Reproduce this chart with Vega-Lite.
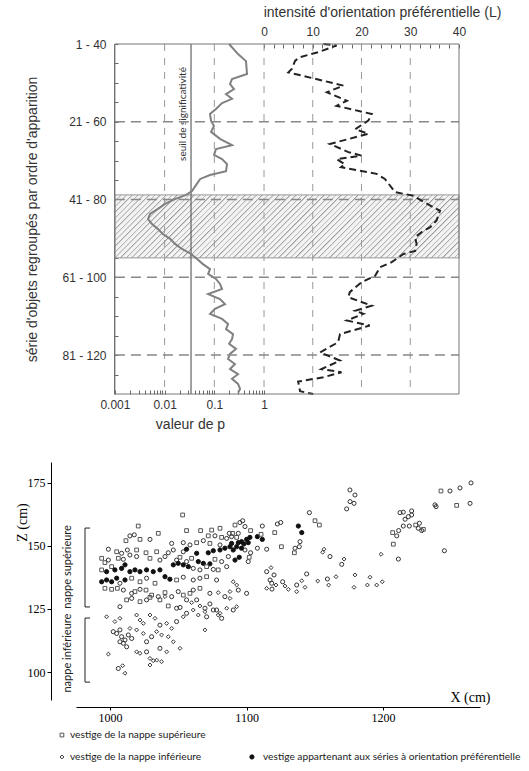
{
"$schema":"https://vega.github.io/schema/vega-lite/v6.json",
"background":"white",
"padding":{"left":15,"top":5,"right":0,"bottom":0},
"config":{"view":{"stroke":null},"axis":{"titleFontWeight":"normal","labelColor":"#333","titleColor":"#333","labelFont":"Liberation Sans","titleFont":"Liberation Sans"}},
"spacing":31,
"datasets":{
"pline":[{"s":1,"p":0.198},{"s":3.6,"p":0.3},{"s":5.4,"p":0.434},{"s":8.7,"p":0.455},{"s":10,"p":0.227},{"s":11.3,"p":0.207},{"s":12.6,"p":0.249},{"s":13.9,"p":0.172},{"s":15.1,"p":0.227},{"s":16.2,"p":0.143},{"s":17.7,"p":0.108},{"s":19,"p":0.082},{"s":20.8,"p":0.086},{"s":22.1,"p":0.0986},{"s":23.6,"p":0.086},{"s":25.4,"p":0.13},{"s":27,"p":0.227},{"s":28,"p":0.108},{"s":29.5,"p":0.0986},{"s":30.6,"p":0.143},{"s":31.9,"p":0.18},{"s":33.7,"p":0.172},{"s":34.7,"p":0.082},{"s":35.7,"p":0.052},{"s":37.3,"p":0.0428},{"s":38.8,"p":0.0356},{"s":39.8,"p":0.027},{"s":40.9,"p":0.0162},{"s":42.1,"p":0.0102},{"s":43.4,"p":0.00736},{"s":44.7,"p":0.0051},{"s":46,"p":0.00463},{"s":47.3,"p":0.00557},{"s":48.6,"p":0.00736},{"s":49.9,"p":0.0093},{"s":51.1,"p":0.0129},{"s":52.4,"p":0.0162},{"s":53.7,"p":0.0224},{"s":55,"p":0.034},{"s":56.3,"p":0.045},{"s":57.6,"p":0.059},{"s":58.9,"p":0.082},{"s":60.1,"p":0.075},{"s":61.4,"p":0.108},{"s":62.7,"p":0.13},{"s":64,"p":0.143},{"s":65.3,"p":0.075},{"s":66.6,"p":0.13},{"s":67.9,"p":0.164},{"s":69.1,"p":0.103},{"s":70.4,"p":0.082},{"s":71.7,"p":0.143},{"s":73,"p":0.189},{"s":74.3,"p":0.172},{"s":75.6,"p":0.238},{"s":76.9,"p":0.227},{"s":78.1,"p":0.198},{"s":79.4,"p":0.273},{"s":80.7,"p":0.207},{"s":82,"p":0.189},{"s":83.3,"p":0.26},{"s":84.6,"p":0.207},{"s":85.9,"p":0.3},{"s":87.1,"p":0.227},{"s":88.4,"p":0.3},{"s":89.7,"p":0.33},{"s":90.7,"p":0.3}],
"lline":[{"s":1,"L":12.2},{"s":1.4,"L":14.9},{"s":3.1,"L":11.1},{"s":4.4,"L":7.4},{"s":5.3,"L":6.4},{"s":7.4,"L":5.7},{"s":8.3,"L":5},{"s":11.7,"L":16.3},{"s":13.4,"L":12.9},{"s":15.6,"L":17},{"s":16.9,"L":14.9},{"s":19,"L":22.1},{"s":20.7,"L":21.4},{"s":22.9,"L":18.7},{"s":24.1,"L":21.4},{"s":26.7,"L":13.5},{"s":28.8,"L":17.3},{"s":29.7,"L":20},{"s":30.6,"L":14.9},{"s":31.9,"L":16.6},{"s":32.7,"L":15.8},{"s":34.4,"L":23.1},{"s":35.7,"L":24.8},{"s":39.1,"L":26.9},{"s":40,"L":30.6},{"s":41.3,"L":32.3},{"s":43.9,"L":36.1},{"s":46.4,"L":35.4},{"s":48.1,"L":34.1},{"s":49.4,"L":32.3},{"s":50.7,"L":31},{"s":52.4,"L":31.3},{"s":54.2,"L":31},{"s":55,"L":28.6},{"s":57.1,"L":26.2},{"s":58.4,"L":23.8},{"s":60.6,"L":22.8},{"s":62.3,"L":20},{"s":64.8,"L":17.6},{"s":66.1,"L":17.3},{"s":68.3,"L":22.1},{"s":69.6,"L":18.7},{"s":70.4,"L":20.4},{"s":72.1,"L":17},{"s":73.4,"L":21.7},{"s":75.6,"L":15.6},{"s":77.7,"L":15.2},{"s":80.3,"L":11.5},{"s":82.4,"L":15.6},{"s":84.6,"L":11.8},{"s":85.4,"L":15.9},{"s":86.7,"L":12.2},{"s":87.8,"L":7},{"s":90.3,"L":7.4},{"s":91,"L":10.1}],
"pts":[
{"x":1053.1,"z":162.3,"k":"s"},{"x":1020.6,"z":157.9,"k":"s"},{"x":1091.5,"z":158.3,"k":"s"},{"x":1095.1,"z":159.3,"k":"c"},{"x":1097.1,"z":160,"k":"c"},{"x":1098.8,"z":157.7,"k":"c"},
{"x":1056,"z":156.1,"k":"s"},{"x":1066.3,"z":156.1,"k":"s"},{"x":1074.4,"z":156.3,"k":"s"},{"x":1080.5,"z":157,"k":"s"},{"x":1087.3,"z":155,"k":"c"},{"x":1089.7,"z":155,"k":"s"},{"x":1093.9,"z":155,"k":"c"},{"x":1102.9,"z":156.1,"k":"s"},
{"x":1014.5,"z":154,"k":"c"},{"x":1017.7,"z":154.4,"k":"c"},{"x":1035.3,"z":155,"k":"s"},{"x":1011.6,"z":152.1,"k":"s"},{"x":1021.9,"z":152.6,"k":"s"},{"x":1029.2,"z":152.6,"k":"c"},{"x":1071.9,"z":154,"k":"s"},{"x":1076.8,"z":154,"k":"c"},{"x":1081.7,"z":153.4,"k":"s"},{"x":1085.4,"z":153,"k":"c"},{"x":1089,"z":153.7,"k":"c"},{"x":1092.7,"z":153.4,"k":"s"},{"x":1100,"z":152.6,"k":"f"},{"x":1102.4,"z":153.4,"k":"f"},
{"x":998.7,"z":148.7,"k":"c"},{"x":1045.1,"z":151,"k":"c"},{"x":1053.6,"z":151.3,"k":"c"},{"x":1058.5,"z":150.4,"k":"c"},{"x":1063.4,"z":151.3,"k":"s"},{"x":1068.3,"z":152.1,"k":"c"},{"x":1073.1,"z":151,"k":"s"},{"x":1080.5,"z":150.4,"k":"c"},{"x":1089,"z":151,"k":"f"},{"x":1093.9,"z":151.3,"k":"f"},{"x":1096.3,"z":151.7,"k":"f"},{"x":1098,"z":150.8,"k":"f"},{"x":1101.2,"z":151.3,"k":"f"},
{"x":1004.8,"z":147.7,"k":"s"},{"x":1008.4,"z":147.1,"k":"c"},{"x":1012.6,"z":148.4,"k":"c"},{"x":1019.4,"z":148.4,"k":"s"},{"x":1026.3,"z":147.3,"k":"s"},{"x":1034.1,"z":147.7,"k":"s"},{"x":1042.6,"z":147.3,"k":"c"},{"x":1046.3,"z":148.4,"k":"c"},{"x":1053.6,"z":147.7,"k":"c"},{"x":1056,"z":148.7,"k":"f"},{"x":1063.4,"z":147.1,"k":"f"},{"x":1071.9,"z":147.3,"k":"f"},{"x":1075.6,"z":148.1,"k":"f"},{"x":1080.5,"z":148.4,"k":"f"},{"x":1084.1,"z":149.1,"k":"f"},{"x":1087.8,"z":149.7,"k":"f"},{"x":1090.2,"z":148.4,"k":"f"},{"x":1092.7,"z":149.7,"k":"f"},{"x":1096.3,"z":149.1,"k":"f"},{"x":1098.8,"z":148.4,"k":"c"},{"x":1102.9,"z":147.3,"k":"c"},
{"x":993.8,"z":145.1,"k":"s"},{"x":996.2,"z":143.4,"k":"s"},{"x":998.7,"z":144.4,"k":"c"},{"x":1006,"z":145.1,"k":"s"},{"x":1009.7,"z":144.7,"k":"c"},{"x":1014.5,"z":146.4,"k":"c"},{"x":1019.4,"z":145.8,"k":"c"},{"x":1029.2,"z":145.1,"k":"s"},{"x":1036.5,"z":144.4,"k":"c"},{"x":1040.2,"z":145.8,"k":"c"},{"x":1048.7,"z":144.4,"k":"c"},{"x":1051.2,"z":145.5,"k":"s"},{"x":1056,"z":143.8,"k":"c"},{"x":1059.7,"z":145.1,"k":"s"},{"x":1064.6,"z":143.8,"k":"f"},{"x":1068.3,"z":143.1,"k":"f"},{"x":1073.1,"z":142.9,"k":"f"},{"x":1076.8,"z":144.7,"k":"s"},{"x":1081.7,"z":143.8,"k":"c"},{"x":1086.6,"z":145.8,"k":"c"},{"x":1091.5,"z":144.4,"k":"f"},{"x":1094.6,"z":145.5,"k":"f"},{"x":1101.2,"z":143.8,"k":"c"},{"x":1101.9,"z":145.5,"k":"s"},
{"x":993.8,"z":140.5,"k":"s"},{"x":997.4,"z":139.8,"k":"f"},{"x":1001.1,"z":141.8,"k":"s"},{"x":1003.5,"z":140.5,"k":"f"},{"x":1008.4,"z":141.1,"k":"f"},{"x":1010.9,"z":142.5,"k":"f"},{"x":1014.5,"z":139.8,"k":"f"},{"x":1018.2,"z":140.5,"k":"f"},{"x":1021.9,"z":139.8,"k":"f"},{"x":1026.7,"z":140.5,"k":"f"},{"x":1031.6,"z":139.8,"k":"f"},{"x":1036.5,"z":140.5,"k":"f"},{"x":1046.3,"z":142.5,"k":"f"},{"x":1049.9,"z":143.1,"k":"f"},{"x":1053.6,"z":142.5,"k":"f"},{"x":1057.3,"z":141.8,"k":"f"},{"x":1060.9,"z":141.1,"k":"c"},{"x":1065.8,"z":140.5,"k":"c"},{"x":1070.7,"z":141.8,"k":"s"},{"x":1075.6,"z":140.7,"k":"c"},{"x":1079.2,"z":140.5,"k":"s"},{"x":1085.4,"z":141.8,"k":"c"},
{"x":993.8,"z":135.8,"k":"f"},{"x":997.4,"z":136.5,"k":"f"},{"x":1001.1,"z":135.8,"k":"f"},{"x":1004.8,"z":137.2,"k":"f"},{"x":1007.2,"z":135.2,"k":"c"},{"x":1010.9,"z":136.5,"k":"f"},{"x":1015.8,"z":137.2,"k":"s"},{"x":1021.9,"z":135.8,"k":"s"},{"x":1026.7,"z":137.2,"k":"c"},{"x":1032.9,"z":135.2,"k":"s"},{"x":1040.2,"z":137.8,"k":"f"},{"x":1043.8,"z":136.8,"k":"f"},{"x":1048.7,"z":136.5,"k":"s"},{"x":1053.6,"z":137.6,"k":"c"},{"x":1060.9,"z":136.5,"k":"c"},{"x":1065.8,"z":137.2,"k":"c"},{"x":1070.7,"z":137.8,"k":"s"},{"x":1078,"z":136.5,"k":"c"},{"x":1090.2,"z":135.8,"k":"i"},{"x":1092.7,"z":134.5,"k":"i"},{"x":1093.9,"z":132.5,"k":"c"},
{"x":996.2,"z":133.2,"k":"s"},{"x":1001.1,"z":132.8,"k":"s"},{"x":1005.3,"z":133.2,"k":"s"},{"x":1009.7,"z":132.5,"k":"c"},{"x":1015.8,"z":131.2,"k":"c"},{"x":1018.2,"z":131.9,"k":"s"},{"x":1021.9,"z":132.8,"k":"c"},{"x":1026.3,"z":132.5,"k":"s"},{"x":1030.4,"z":130.5,"k":"s"},{"x":1035.3,"z":129.9,"k":"c"},{"x":1040.2,"z":131.5,"k":"s"},{"x":1045.1,"z":129.9,"k":"c"},{"x":1049.9,"z":131.9,"k":"c"},{"x":1053.6,"z":130.5,"k":"s"},{"x":1058.5,"z":131.2,"k":"s"},{"x":1060.9,"z":132.5,"k":"c"},{"x":1065.8,"z":133.2,"k":"s"},{"x":1073.1,"z":131.2,"k":"c"},{"x":1079.2,"z":131.5,"k":"i"},{"x":1084.1,"z":129.9,"k":"c"},{"x":1087.8,"z":131.9,"k":"i"},{"x":1100,"z":131.2,"k":"c"},
{"x":1007.2,"z":125.9,"k":"c"},{"x":1012.1,"z":128.6,"k":"s"},{"x":1015.8,"z":129.2,"k":"c"},{"x":1021.9,"z":127.9,"k":"s"},{"x":1026.7,"z":128.6,"k":"c"},{"x":1029.2,"z":129.6,"k":"s"},{"x":1036.5,"z":128.6,"k":"s"},{"x":1040.2,"z":129.9,"k":"i"},{"x":1042.6,"z":126.2,"k":"s"},{"x":1048.7,"z":125.3,"k":"c"},{"x":1051.2,"z":125.6,"k":"c"},{"x":1056,"z":128.6,"k":"c"},{"x":1059.7,"z":127.5,"k":"i"},{"x":1063.4,"z":128.6,"k":"c"},{"x":1065.8,"z":126.2,"k":"i"},{"x":1069.5,"z":125.3,"k":"c"},{"x":1073.1,"z":127,"k":"c"},{"x":1078,"z":124.6,"k":"c"},{"x":1080.5,"z":123.3,"k":"i"},{"x":1085.4,"z":125.3,"k":"i"},{"x":1087.8,"z":129.2,"k":"i"},{"x":1090.2,"z":124.6,"k":"c"},{"x":1092.7,"z":125.9,"k":"i"},
{"x":997.4,"z":121.9,"k":"i"},{"x":1003.5,"z":120,"k":"i"},{"x":1007.2,"z":121.3,"k":"i"},{"x":1019.4,"z":122.6,"k":"i"},{"x":1021.9,"z":120.6,"k":"i"},{"x":1024.3,"z":119.3,"k":"i"},{"x":1029.2,"z":122.6,"k":"i"},{"x":1032.9,"z":121.3,"k":"i"},{"x":1036.5,"z":118.6,"k":"c"},{"x":1041.4,"z":119.3,"k":"i"},{"x":1045.1,"z":117.3,"k":"i"},{"x":1048.7,"z":120,"k":"c"},{"x":1053.6,"z":121.9,"k":"i"},{"x":1056,"z":123.3,"k":"c"},{"x":1060.9,"z":124.6,"k":"i"},{"x":1064.6,"z":122.6,"k":"i"},{"x":1069.5,"z":123.9,"k":"i"},{"x":1070.7,"z":121.9,"k":"c"},{"x":1075.6,"z":124.6,"k":"c"},{"x":1079.2,"z":122.6,"k":"i"},{"x":1081.7,"z":121.3,"k":"c"},
{"x":1002.3,"z":116,"k":"c"},{"x":1004.8,"z":115.3,"k":"c"},{"x":1007.2,"z":116.7,"k":"c"},{"x":1008.4,"z":114,"k":"c"},{"x":1010.9,"z":112.7,"k":"c"},{"x":1013.3,"z":114.7,"k":"c"},{"x":1014.5,"z":117.3,"k":"i"},{"x":1015.8,"z":113.3,"k":"c"},{"x":1009.7,"z":111.4,"k":"c"},{"x":1012.1,"z":110,"k":"c"},{"x":1007.2,"z":112,"k":"c"},{"x":1019.4,"z":116.7,"k":"i"},{"x":1024.3,"z":115.3,"k":"i"},{"x":1026.7,"z":112,"k":"c"},{"x":1030.4,"z":114,"k":"c"},{"x":1034.1,"z":116,"k":"i"},{"x":1037.7,"z":114.7,"k":"i"},{"x":1042.6,"z":114,"k":"i"},{"x":1046.3,"z":112,"k":"i"},{"x":1051.2,"z":109.4,"k":"i"},{"x":1069.5,"z":116.7,"k":"i"},
{"x":998.7,"z":107.1,"k":"i"},{"x":1019.4,"z":108,"k":"i"},{"x":1021.9,"z":107.4,"k":"i"},{"x":1026.7,"z":108,"k":"c"},{"x":1029.2,"z":105.4,"k":"i"},{"x":1034.1,"z":104.7,"k":"i"},{"x":1036.5,"z":109.4,"k":"c"},{"x":1041.4,"z":108,"k":"i"},{"x":1006,"z":101.4,"k":"c"},{"x":1009.2,"z":102.5,"k":"i"},{"x":1010.9,"z":99.5,"k":"i"},{"x":1029.2,"z":102.8,"k":"i"},{"x":1031.6,"z":104.5,"k":"i"},{"x":1037.7,"z":104.1,"k":"i"},
{"x":1175.8,"z":167.6,"k":"c"},{"x":1178.7,"z":166.9,"k":"c"},{"x":1173.3,"z":164.7,"k":"c"},{"x":1146,"z":163.2,"k":"c"},{"x":1150.1,"z":160,"k":"s"},{"x":1153.3,"z":158.3,"k":"s"},{"x":1111.5,"z":157.9,"k":"c"},{"x":1122.5,"z":158.7,"k":"c"},{"x":1125,"z":159.3,"k":"c"},{"x":1137.9,"z":157.9,"k":"f"},{"x":1140.4,"z":155.3,"k":"f"},{"x":1107.9,"z":153.7,"k":"f"},{"x":1111.5,"z":152.6,"k":"f"},{"x":1110.6,"z":154.6,"k":"s"},{"x":1120.6,"z":155.3,"k":"s"},{"x":1139.1,"z":151.7,"k":"c"},{"x":1135.5,"z":149.1,"k":"c"},{"x":1138.6,"z":149.7,"k":"c"},{"x":1135,"z":147.3,"k":"s"},{"x":1125.5,"z":149.7,"k":"s"},{"x":1114.7,"z":148.7,"k":"c"},{"x":1107.9,"z":149.1,"k":"c"},
{"x":1156.7,"z":148.7,"k":"i"},{"x":1155.7,"z":147.5,"k":"i"},{"x":1161.1,"z":145.8,"k":"c"},{"x":1171.4,"z":144.8,"k":"i"},{"x":1169.7,"z":142.7,"k":"c"},{"x":1114.7,"z":139.8,"k":"c"},{"x":1117.9,"z":141.4,"k":"i"},{"x":1120.1,"z":138.5,"k":"c"},{"x":1144,"z":138.9,"k":"c"},{"x":1117.2,"z":136.5,"k":"c"},{"x":1118.4,"z":135.2,"k":"c"},{"x":1121.5,"z":134.5,"k":"i"},{"x":1126.4,"z":135.8,"k":"c"},{"x":1128.1,"z":134.1,"k":"i"},{"x":1130.6,"z":132.8,"k":"i"},{"x":1136.7,"z":134.5,"k":"c"},{"x":1140.4,"z":136.2,"k":"i"},{"x":1136.7,"z":131.9,"k":"i"},{"x":1142.8,"z":133.6,"k":"i"},{"x":1152.1,"z":136.1,"k":"i"},{"x":1159.2,"z":136.9,"k":"c"},{"x":1160.1,"z":134.5,"k":"i"},{"x":1165.5,"z":137.8,"k":"i"},{"x":1179.4,"z":138.5,"k":"i"},{"x":1178.7,"z":133.6,"k":"i"},{"x":1188.5,"z":134.5,"k":"i"},{"x":1190.4,"z":137.6,"k":"i"},{"x":1195.3,"z":134.5,"k":"i"},{"x":1199.4,"z":135.8,"k":"i"},{"x":1114.7,"z":133.2,"k":"i"},{"x":1118.6,"z":132.9,"k":"c"},
{"x":1198.5,"z":146.7,"k":"i"},{"x":1211.2,"z":144.8,"k":"c"},{"x":1207.5,"z":150.7,"k":"s"},{"x":1210,"z":154,"k":"c"},{"x":1207,"z":155.3,"k":"s"},{"x":1211.4,"z":156.1,"k":"c"},{"x":1214.8,"z":157.9,"k":"c"},{"x":1219.2,"z":157.9,"k":"c"},{"x":1216.1,"z":160.6,"k":"c"},{"x":1218.5,"z":161.6,"k":"c"},{"x":1220.9,"z":162.3,"k":"c"},{"x":1220.9,"z":163.9,"k":"c"},{"x":1212.4,"z":163.2,"k":"c"},{"x":1214.8,"z":163.4,"k":"c"},{"x":1223.9,"z":158.3,"k":"s"},{"x":1226.6,"z":159,"k":"c"},{"x":1225.8,"z":157,"k":"c"},{"x":1228.3,"z":156.1,"k":"c"},{"x":1229.5,"z":156.6,"k":"s"},{"x":1238,"z":166.3,"k":"c"},{"x":1238.8,"z":165.6,"k":"c"},{"x":1253.9,"z":166.1,"k":"s"},{"x":1263.7,"z":166.9,"k":"c"},{"x":1244.9,"z":148.1,"k":"c"},
{"x":1264.4,"z":175,"k":"c"},{"x":1249,"z":171.8,"k":"c"},{"x":1242.4,"z":171.8,"k":"s"},{"x":1256.3,"z":173,"k":"c"},{"x":1175.7,"z":172.2,"k":"c"},{"x":1179.4,"z":170.2,"k":"c"},
{"x":964.7,"z":75,"k":"s"},{"x":964.7,"z":66.3,"k":"i"},{"x":1103.9,"z":66.3,"k":"f"}
]},
"vconcat":[
{
"width":383,"height":350,
"encoding":{"y":{"field":"s","type":"quantitative","scale":{"domain":[1,91],"reverse":true,"nice":false,"zero":false},
 "axis":{"orient":"left","offset":-38,"values":[1,6,11,16,21,26,31,36,41,46,51,56,61,66,71,76,81,86],"labelExpr":"(datum.value-1)%20==0 ? datum.value+' - '+(datum.value+39) : ''","tickSize":-4,"tickColor":"#666","domainColor":"#666","labelFontSize":12,"labelPadding":12,"grid":false,"title":"série d'objets regroupés par ordre d'apparition","titleFontSize":14,"titlePadding":22}}},
"layer":[
 {"encoding":{"x":{"field":"p","type":"quantitative","scale":{"type":"log","domain":[0.0001648,8380],"nice":false},
  "axis":{"orient":"bottom","values":[0.001,0.002,0.003,0.004,0.005,0.006,0.007,0.008,0.009,0.01,0.02,0.03,0.04,0.05,0.06,0.07,0.08,0.09,0.1,0.2,0.3,0.4,0.5,0.6,0.7,0.8,0.9,1],"labelExpr":"datum.value==0.001||datum.value==0.01||datum.value==0.1||datum.value==1 ? format(datum.value,'~g') : ''","labelOverlap":false,"labelFlush":false,"domain":false,"tickSize":-4,"tickColor":"#666","labelFontSize":12,"labelPadding":9,"grid":false,"title":"valeur de p","titleFontSize":14,"titleX":114,"titleAlign":"center","titlePadding":7}}},
  "layer":[
   {"data":{"values":[{"p":0.001,"p2":8380,"s":39.8,"s2":56}]},
    "mark":{"type":"rect","stroke":"#999","strokeWidth":1,"fill":{"gradient":"linear","x1":0,"y1":0,"x2":1.1445,"y2":0.209,"stops":[
{"offset":0,"color":"#999"},{"offset":0.0045,"color":"#f3f3f3"},{"offset":0.0134,"color":"#f3f3f3"},
{"offset":0.01389,"color":"#999"},{"offset":0.01839,"color":"#f3f3f3"},{"offset":0.02729,"color":"#f3f3f3"},
{"offset":0.02778,"color":"#999"},{"offset":0.03228,"color":"#f3f3f3"},{"offset":0.04118,"color":"#f3f3f3"},
{"offset":0.04167,"color":"#999"},{"offset":0.04617,"color":"#f3f3f3"},{"offset":0.05507,"color":"#f3f3f3"},
{"offset":0.05556,"color":"#999"},{"offset":0.06006,"color":"#f3f3f3"},{"offset":0.06896,"color":"#f3f3f3"},
{"offset":0.06944,"color":"#999"},{"offset":0.07394,"color":"#f3f3f3"},{"offset":0.08284,"color":"#f3f3f3"},
{"offset":0.08333,"color":"#999"},{"offset":0.08783,"color":"#f3f3f3"},{"offset":0.09673,"color":"#f3f3f3"},
{"offset":0.09722,"color":"#999"},{"offset":0.10172,"color":"#f3f3f3"},{"offset":0.11062,"color":"#f3f3f3"},
{"offset":0.11111,"color":"#999"},{"offset":0.11561,"color":"#f3f3f3"},{"offset":0.12451,"color":"#f3f3f3"},
{"offset":0.125,"color":"#999"},{"offset":0.1295,"color":"#f3f3f3"},{"offset":0.1384,"color":"#f3f3f3"},
{"offset":0.13889,"color":"#999"},{"offset":0.14339,"color":"#f3f3f3"},{"offset":0.15229,"color":"#f3f3f3"},
{"offset":0.15278,"color":"#999"},{"offset":0.15728,"color":"#f3f3f3"},{"offset":0.16618,"color":"#f3f3f3"},
{"offset":0.16667,"color":"#999"},{"offset":0.17117,"color":"#f3f3f3"},{"offset":0.18007,"color":"#f3f3f3"},
{"offset":0.18056,"color":"#999"},{"offset":0.18506,"color":"#f3f3f3"},{"offset":0.19396,"color":"#f3f3f3"},
{"offset":0.19444,"color":"#999"},{"offset":0.19894,"color":"#f3f3f3"},{"offset":0.20784,"color":"#f3f3f3"},
{"offset":0.20833,"color":"#999"},{"offset":0.21283,"color":"#f3f3f3"},{"offset":0.22173,"color":"#f3f3f3"},
{"offset":0.22222,"color":"#999"},{"offset":0.22672,"color":"#f3f3f3"},{"offset":0.23562,"color":"#f3f3f3"},
{"offset":0.23611,"color":"#999"},{"offset":0.24061,"color":"#f3f3f3"},{"offset":0.24951,"color":"#f3f3f3"},
{"offset":0.25,"color":"#999"},{"offset":0.2545,"color":"#f3f3f3"},{"offset":0.2634,"color":"#f3f3f3"},
{"offset":0.26389,"color":"#999"},{"offset":0.26839,"color":"#f3f3f3"},{"offset":0.27729,"color":"#f3f3f3"},
{"offset":0.27778,"color":"#999"},{"offset":0.28228,"color":"#f3f3f3"},{"offset":0.29118,"color":"#f3f3f3"},
{"offset":0.29167,"color":"#999"},{"offset":0.29617,"color":"#f3f3f3"},{"offset":0.30507,"color":"#f3f3f3"},
{"offset":0.30556,"color":"#999"},{"offset":0.31006,"color":"#f3f3f3"},{"offset":0.31896,"color":"#f3f3f3"},
{"offset":0.31944,"color":"#999"},{"offset":0.32394,"color":"#f3f3f3"},{"offset":0.33284,"color":"#f3f3f3"},
{"offset":0.33333,"color":"#999"},{"offset":0.33783,"color":"#f3f3f3"},{"offset":0.34673,"color":"#f3f3f3"},
{"offset":0.34722,"color":"#999"},{"offset":0.35172,"color":"#f3f3f3"},{"offset":0.36062,"color":"#f3f3f3"},
{"offset":0.36111,"color":"#999"},{"offset":0.36561,"color":"#f3f3f3"},{"offset":0.37451,"color":"#f3f3f3"},
{"offset":0.375,"color":"#999"},{"offset":0.3795,"color":"#f3f3f3"},{"offset":0.3884,"color":"#f3f3f3"},
{"offset":0.38889,"color":"#999"},{"offset":0.39339,"color":"#f3f3f3"},{"offset":0.40229,"color":"#f3f3f3"},
{"offset":0.40278,"color":"#999"},{"offset":0.40728,"color":"#f3f3f3"},{"offset":0.41618,"color":"#f3f3f3"},
{"offset":0.41667,"color":"#999"},{"offset":0.42117,"color":"#f3f3f3"},{"offset":0.43007,"color":"#f3f3f3"},
{"offset":0.43056,"color":"#999"},{"offset":0.43506,"color":"#f3f3f3"},{"offset":0.44396,"color":"#f3f3f3"},
{"offset":0.44444,"color":"#999"},{"offset":0.44894,"color":"#f3f3f3"},{"offset":0.45784,"color":"#f3f3f3"},
{"offset":0.45833,"color":"#999"},{"offset":0.46283,"color":"#f3f3f3"},{"offset":0.47173,"color":"#f3f3f3"},
{"offset":0.47222,"color":"#999"},{"offset":0.47672,"color":"#f3f3f3"},{"offset":0.48562,"color":"#f3f3f3"},
{"offset":0.48611,"color":"#999"},{"offset":0.49061,"color":"#f3f3f3"},{"offset":0.49951,"color":"#f3f3f3"},
{"offset":0.5,"color":"#999"},{"offset":0.5045,"color":"#f3f3f3"},{"offset":0.5134,"color":"#f3f3f3"},
{"offset":0.51389,"color":"#999"},{"offset":0.51839,"color":"#f3f3f3"},{"offset":0.52729,"color":"#f3f3f3"},
{"offset":0.52778,"color":"#999"},{"offset":0.53228,"color":"#f3f3f3"},{"offset":0.54118,"color":"#f3f3f3"},
{"offset":0.54167,"color":"#999"},{"offset":0.54617,"color":"#f3f3f3"},{"offset":0.55507,"color":"#f3f3f3"},
{"offset":0.55556,"color":"#999"},{"offset":0.56006,"color":"#f3f3f3"},{"offset":0.56896,"color":"#f3f3f3"},
{"offset":0.56944,"color":"#999"},{"offset":0.57394,"color":"#f3f3f3"},{"offset":0.58284,"color":"#f3f3f3"},
{"offset":0.58333,"color":"#999"},{"offset":0.58783,"color":"#f3f3f3"},{"offset":0.59673,"color":"#f3f3f3"},
{"offset":0.59722,"color":"#999"},{"offset":0.60172,"color":"#f3f3f3"},{"offset":0.61062,"color":"#f3f3f3"},
{"offset":0.61111,"color":"#999"},{"offset":0.61561,"color":"#f3f3f3"},{"offset":0.62451,"color":"#f3f3f3"},
{"offset":0.625,"color":"#999"},{"offset":0.6295,"color":"#f3f3f3"},{"offset":0.6384,"color":"#f3f3f3"},
{"offset":0.63889,"color":"#999"},{"offset":0.64339,"color":"#f3f3f3"},{"offset":0.65229,"color":"#f3f3f3"},
{"offset":0.65278,"color":"#999"},{"offset":0.65728,"color":"#f3f3f3"},{"offset":0.66618,"color":"#f3f3f3"},
{"offset":0.66667,"color":"#999"},{"offset":0.67117,"color":"#f3f3f3"},{"offset":0.68007,"color":"#f3f3f3"},
{"offset":0.68056,"color":"#999"},{"offset":0.68506,"color":"#f3f3f3"},{"offset":0.69396,"color":"#f3f3f3"},
{"offset":0.69444,"color":"#999"},{"offset":0.69894,"color":"#f3f3f3"},{"offset":0.70784,"color":"#f3f3f3"},
{"offset":0.70833,"color":"#999"},{"offset":0.71283,"color":"#f3f3f3"},{"offset":0.72173,"color":"#f3f3f3"},
{"offset":0.72222,"color":"#999"},{"offset":0.72672,"color":"#f3f3f3"},{"offset":0.73562,"color":"#f3f3f3"},
{"offset":0.73611,"color":"#999"},{"offset":0.74061,"color":"#f3f3f3"},{"offset":0.74951,"color":"#f3f3f3"},
{"offset":0.75,"color":"#999"},{"offset":0.7545,"color":"#f3f3f3"},{"offset":0.7634,"color":"#f3f3f3"},
{"offset":0.76389,"color":"#999"},{"offset":0.76839,"color":"#f3f3f3"},{"offset":0.77729,"color":"#f3f3f3"},
{"offset":0.77778,"color":"#999"},{"offset":0.78228,"color":"#f3f3f3"},{"offset":0.79118,"color":"#f3f3f3"},
{"offset":0.79167,"color":"#999"},{"offset":0.79617,"color":"#f3f3f3"},{"offset":0.80507,"color":"#f3f3f3"},
{"offset":0.80556,"color":"#999"},{"offset":0.81006,"color":"#f3f3f3"},{"offset":0.81896,"color":"#f3f3f3"},
{"offset":0.81944,"color":"#999"},{"offset":0.82394,"color":"#f3f3f3"},{"offset":0.83284,"color":"#f3f3f3"},
{"offset":0.83333,"color":"#999"},{"offset":0.83783,"color":"#f3f3f3"},{"offset":0.84673,"color":"#f3f3f3"},
{"offset":0.84722,"color":"#999"},{"offset":0.85172,"color":"#f3f3f3"},{"offset":0.86062,"color":"#f3f3f3"},
{"offset":0.86111,"color":"#999"},{"offset":0.86561,"color":"#f3f3f3"},{"offset":0.87451,"color":"#f3f3f3"},
{"offset":0.875,"color":"#999"},{"offset":0.8795,"color":"#f3f3f3"},{"offset":0.8884,"color":"#f3f3f3"},
{"offset":0.88889,"color":"#999"},{"offset":0.89339,"color":"#f3f3f3"},{"offset":0.90229,"color":"#f3f3f3"},
{"offset":0.90278,"color":"#999"},{"offset":0.90728,"color":"#f3f3f3"},{"offset":0.91618,"color":"#f3f3f3"},
{"offset":0.91667,"color":"#999"},{"offset":0.92117,"color":"#f3f3f3"},{"offset":0.93007,"color":"#f3f3f3"},
{"offset":0.93056,"color":"#999"},{"offset":0.93506,"color":"#f3f3f3"},{"offset":0.94396,"color":"#f3f3f3"},
{"offset":0.94444,"color":"#999"},{"offset":0.94894,"color":"#f3f3f3"},{"offset":0.95784,"color":"#f3f3f3"},
{"offset":0.95833,"color":"#999"},{"offset":0.96283,"color":"#f3f3f3"},{"offset":0.97173,"color":"#f3f3f3"},
{"offset":0.97222,"color":"#999"},{"offset":0.97672,"color":"#f3f3f3"},{"offset":0.98562,"color":"#f3f3f3"},
{"offset":0.98611,"color":"#999"},{"offset":0.99061,"color":"#f3f3f3"},{"offset":0.99951,"color":"#f3f3f3"},
{"offset":1,"color":"#999"}]}},
    "encoding":{"x2":{"field":"p2"},"y2":{"field":"s2"}}},
   {"data":{"values":[{"p":0.01,"s":1,"s2":91},{"p":0.1,"s":1,"s2":91},{"p":1,"s":1,"s2":91}]},
    "mark":{"type":"rule","color":"#999","strokeWidth":1,"strokeDash":[7,7]},
    "encoding":{"y2":{"field":"s2"}}},
   {"data":{"values":[{"p":0.034,"s":1,"s2":91}]},
    "mark":{"type":"rule","color":"#444","strokeWidth":1},
    "encoding":{"y2":{"field":"s2"}}},
   {"data":{"values":[{"p":0.0234,"s":19,"label":"seuil de significativité"}]},
    "mark":{"type":"text","angle":270,"font":"Lato","fontSize":10,"color":"#333","align":"center","baseline":"middle"},
    "encoding":{"text":{"field":"label"}}},
   {"data":{"name":"pline"},
    "mark":{"type":"line","color":"#808080","strokeWidth":2},
    "encoding":{"order":{"field":"s","type":"quantitative"}}}
  ]},
 {"encoding":{"x":{"field":"L","type":"quantitative","scale":{"domain":[-38.56,40],"nice":false,"zero":false},
  "axis":{"orient":"top","values":[0,2,4,6,8,10,12,14,16,18,20,22,24,26,28,30,32,34,36,38,40],"labelExpr":"datum.value%10==0 ? datum.label : ''","labelOverlap":false,"labelFlush":false,"domain":false,"tickSize":-4,"tickColor":"#666","labelFontSize":12,"labelPadding":10,"grid":false,"title":"intensité d'orientation préférentielle (L)","titleFontSize":14,"titleX":306,"titleAlign":"center","titlePadding":6}}},
  "layer":[
   {"data":{"values":[{"L":10,"s":1,"s2":91},{"L":20,"s":1,"s2":91},{"L":30,"s":1,"s2":91}]},
    "mark":{"type":"rule","color":"#999","strokeWidth":1,"strokeDash":[7,7]},
    "encoding":{"y2":{"field":"s2"}}},
   {"data":{"values":[{"L":-30.58,"L2":40,"s":21},{"L":-30.58,"L2":40,"s":41},{"L":-30.58,"L2":40,"s":61},{"L":-30.58,"L2":40,"s":81}]},
    "mark":{"type":"rule","color":"#888","strokeWidth":1.5,"strokeDash":[10,6]},
    "encoding":{"x2":{"field":"L2"}}},
   {"data":{"name":"lline"},
    "mark":{"type":"line","color":"#222","strokeWidth":2,"strokeDash":[7,4]},
    "encoding":{"order":{"field":"s","type":"quantitative"}}},
   {"data":{"values":[{"L":-30.58,"L2":40,"s":1,"s2":91}]},
    "mark":{"type":"rect","fill":"transparent","stroke":"#777","strokeWidth":1},
    "encoding":{"x2":{"field":"L2"},"y2":{"field":"s2"}}}
  ]}
],
"resolve":{"scale":{"x":"independent"}}
},
{
"width":404,"height":238,
"encoding":{
 "x":{"field":"x","type":"quantitative","scale":{"domain":[975,1271],"nice":false,"zero":false},
  "axis":{"orient":"bottom","offset":7,"values":[1000,1100,1200],"format":"d","labelFont":"Liberation Serif","labelFontSize":12,"labelColor":"#000","labelPadding":2,"labelFlush":false,"tickSize":3,"tickColor":"#000","domainColor":"#000","grid":false,"title":"X (cm)","titleFont":"Liberation Serif","titleFontSize":14,"titleColor":"#000","titleX":394,"titleY":-10,"titleAlign":"center","titleBaseline":"middle"}},
 "y":{"field":"z","type":"quantitative","scale":{"domain":[88.9,183.3],"nice":false,"zero":false},
  "axis":{"orient":"left","offset":25,"values":[100,125,150,175],"labelFont":"Liberation Serif","labelFontSize":12,"labelColor":"#000","tickSize":4,"tickColor":"#000","domainColor":"#000","grid":false,"title":"Z (cm)","titleFont":"Liberation Serif","titleFontSize":14,"titleColor":"#000","titleX":-29,"titleY":60,"titleAlign":"center","titleBaseline":"middle","titleAngle":270}}
},
"layer":[
 {"data":{"values":[{"x":981.6,"x2":981.6,"z":125.8,"z2":157.1},{"x":981.6,"x2":985.3,"z":157.1,"z2":157.1},{"x":981.6,"x2":985.3,"z":125.8,"z2":125.8},{"x":981.6,"x2":981.6,"z":96,"z2":121.4},{"x":981.6,"x2":985.3,"z":121.4,"z2":121.4},{"x":981.6,"x2":985.3,"z":96,"z2":96}]},
  "mark":{"type":"rule","color":"#222","strokeWidth":1},
  "encoding":{"x2":{"field":"x2"},"y2":{"field":"z2"}}},
 {"data":{"values":[{"x":969.1,"z":141.7,"label":"nappe supérieure"},{"x":969.1,"z":107.5,"label":"nappe inférieure"}]},
  "mark":{"type":"text","angle":270,"font":"Lato","fontSize":11,"color":"#222","align":"center","baseline":"middle"},
  "encoding":{"text":{"field":"label"}}},
 {"data":{"name":"pts"},
  "mark":{"type":"point","filled":true,"opacity":1,"strokeWidth":1},
  "encoding":{
   "shape":{"field":"k","type":"nominal","scale":{"domain":["s","i","c","f"],"range":["square","diamond","circle","circle"]},"legend":null},
   "fill":{"field":"k","type":"nominal","scale":{"domain":["s","i","c","f"],"range":["transparent","transparent","transparent","#111"]},"legend":null},
   "stroke":{"field":"k","type":"nominal","scale":{"domain":["s","i","c","f"],"range":["#555","#333","#333","#111"]},"legend":null},
   "size":{"field":"k","type":"ordinal","scale":{"domain":["s","i","c","f"],"range":[14,18,20,22]},"legend":null}}},
 {"data":{"values":[{"x":970.6,"z":75,"label":"vestige de la nappe supérieure"},{"x":970.6,"z":66.3,"label":"vestige de la nappe inférieure"},{"x":1112,"z":66.3,"label":"vestige appartenant aux séries à orientation préférentielle"}]},
  "mark":{"type":"text","font":"Lato","fontSize":10.2,"color":"#222","align":"left","baseline":"middle"},
  "encoding":{"text":{"field":"label"}}}
]
}
]
}
